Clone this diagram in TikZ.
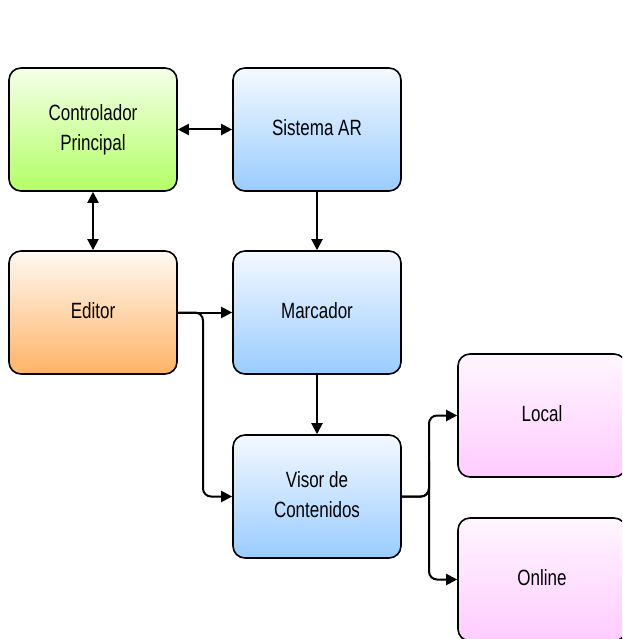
\documentclass[tikz,border=0pt]{standalone}
\usepackage{fontspec}
\setmainfont{Liberation Sans}
\usetikzlibrary{arrows.meta}
\definecolor{gtop}{HTML}{F4FFE8}\definecolor{gbot}{HTML}{B3FF66}
\definecolor{btop}{HTML}{F4F9FF}\definecolor{bbot}{HTML}{99CCFF}
\definecolor{otop}{HTML}{FFF9F2}\definecolor{obot}{HTML}{FFB366}
\definecolor{ptop}{HTML}{FFF6FF}\definecolor{pbot}{HTML}{FFCCFF}
\newcommand{\tx}[1]{\scalebox{1}[1.3]{\fontsize{17}{23}\selectfont\begin{tabular}{@{}c@{}}#1\end{tabular}}}
\tikzset{
  blk/.style={draw=black, line width=1.6pt, rounded corners=12pt, minimum width=168pt, minimum height=123pt, inner sep=0pt},
  gbox/.style={blk, top color=gtop, bottom color=gbot},
  bbox/.style={blk, top color=btop, bottom color=bbot},
  obox/.style={blk, top color=otop, bottom color=obot},
  pbox/.style={blk, top color=ptop, bottom color=pbot},
  tip/.tip={Triangle[length=11pt,width=11pt]},
  conn/.style={line width=2pt, -tip},
  conn2/.style={line width=2pt, tip-tip},
}
\begin{document}
\begin{tikzpicture}[x=1pt,y=-1pt]
\useasboundingbox (0,0) rectangle (622,639);
\clip (0,0) rectangle (622,639);
\node[gbox] (cp) at (93,129.5) {\tx{Controlador\\Principal}};
\node[bbox] (sar) at (317,129.5) {\tx{Sistema AR}};
\node[obox] (ed) at (93,312.5) {\tx{Editor}};
\node[bbox] (mar) at (317,312.5) {\tx{Marcador}};
\node[bbox] (vis) at (317,496.5) {\tx{Visor de\\Contenidos}};
\node[pbox] (loc) at (542,415.5) {\tx{Local}};
\node[pbox] (onl) at (542,579.5) {\tx{Online}};
\coordinate (ebr) at (203,400);
\coordinate (vbr) at (429,456);
\draw[conn2] (cp.east) -- (sar.west);
\draw[conn2] (cp.south) -- (ed.north);
\draw[conn] (sar.south) -- (mar.north);
\draw[conn] (ed.east) -- (mar.west);
\draw[conn] (mar.south) -- (vis.north);
\draw[conn, rounded corners=8pt] (ed.east) -| (ebr) |- (vis.west);
\draw[conn, rounded corners=8pt] (vis.east) -| (vbr) |- (loc.west);
\draw[conn, rounded corners=8pt] (vis.east) -| (vbr) |- (onl.west);
\end{tikzpicture}
\end{document}
